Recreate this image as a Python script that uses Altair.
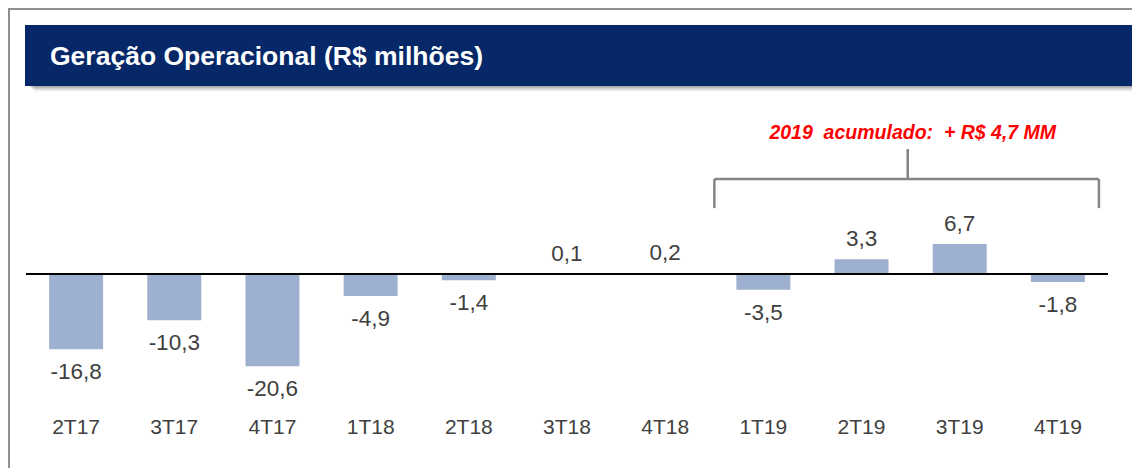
import altair as alt
import pandas as pd

# ---- data ----
categories = ["2T17", "3T17", "4T17", "1T18", "2T18", "3T18", "4T18", "1T19", "2T19", "3T19", "4T19"]
values = [-16.8, -10.3, -20.6, -4.9, -1.4, 0.1, 0.2, -3.5, 3.3, 6.7, -1.8]
title_text = "Geração Operacional (R$ milhões)"
note_text = "2019\u00a0\u00a0acumulado:\u00a0\u00a0+ R$ 4,7 MM"
bracket_start = "1T19"
bracket_end = "4T19"
bracket_stem_cat = "3T19"

df = pd.DataFrame({"cat": categories, "val": values})
df["label"] = [f"{v:.1f}".replace(".", ",") for v in values]

# ---- style ----
NAVY = "#062868"
BAR = "#9DB0CF"
TXT = "#404040"
GREY = "#858585"
FONT = "Liberation Sans"

W, H = 1124, 460

x_scale = alt.Scale(domain=categories, range=[19, 1099], paddingInner=0.45, paddingOuter=0.225)
y_scale = alt.Scale(domain=[-30, 30], range=[266 + 30 * 4.48, 266 - 30 * 4.48])

one = alt.Data(values=[{"a": 1}])

# border lines (top and left)
border_top = alt.Chart(one).mark_rule(color="#8f8f8f", strokeWidth=2).encode(
    x=alt.value(0), x2=alt.value(W), y=alt.value(1))
border_left = alt.Chart(one).mark_rule(color="#8f8f8f", strokeWidth=2).encode(
    y=alt.value(0), y2=alt.value(H), x=alt.value(1))

# title bar shadow + bar
shadows = []
for i, op in enumerate([0.10, 0.09, 0.08, 0.06, 0.04, 0.03]):
    shadows.append(alt.Chart(one).mark_rect(color="#000000", opacity=op).encode(
        x=alt.value(22 + i), x2=alt.value(W), y=alt.value(20 + i), y2=alt.value(79 + i)))
title_bar = alt.Chart(one).mark_rect(color=NAVY).encode(
    x=alt.value(17), x2=alt.value(1127), y=alt.value(17), y2=alt.value(78))
title = alt.Chart(one).mark_text(text=title_text, color="white", font=FONT, fontWeight="bold",
                                 fontSize=26.5, align="left", baseline="middle").encode(
    x=alt.value(42), y=alt.value(49))

base = alt.Chart(df)
bars = base.mark_bar(color=BAR).encode(
    x=alt.X("cat:N", scale=x_scale, axis=None),
    y=alt.Y("val:Q", scale=y_scale, axis=None),
    y2=alt.datum(0),
)

zero = alt.Chart(one).transform_calculate(z="0").mark_rule(color="black", strokeWidth=2.2).encode(
    x=alt.value(18), x2=alt.value(1100), y=alt.Y("z:Q", scale=y_scale, axis=None))

neg_labels = base.transform_filter("datum.val < 0").mark_text(
    font=FONT, fontSize=22.5, color=TXT, baseline="middle", dy=23).encode(
    x=alt.X("cat:N", scale=x_scale, axis=None),
    y=alt.Y("val:Q", scale=y_scale, axis=None),
    text="label:N")
pos_labels = base.transform_filter("datum.val >= 0").mark_text(
    font=FONT, fontSize=22.5, color=TXT, baseline="middle", dy=-20).encode(
    x=alt.X("cat:N", scale=x_scale, axis=None),
    y=alt.Y("val:Q", scale=y_scale, axis=None),
    text="label:N")

cat_labels = base.mark_text(font=FONT, fontSize=21, color=TXT, baseline="middle").encode(
    x=alt.X("cat:N", scale=x_scale, axis=None),
    y=alt.value(420),
    text="cat:N")

# bracket annotation
br = alt.Data(values=[{"s": bracket_start, "e": bracket_end, "m": bracket_stem_cat,
                       "yh": 21.2, "yb": 14.7, "yt": 27.9, "yn": 31.5}])
br_h = alt.Chart(br).mark_rule(color=GREY, strokeWidth=2.5, xOffset=-22, x2Offset=14).encode(
    x=alt.X("s:N", scale=x_scale, axis=None, bandPosition=0),
    x2=alt.X2("e:N", bandPosition=1),
    y=alt.Y("yh:Q", scale=y_scale, axis=None))
br_l = alt.Chart(br).mark_rule(color=GREY, strokeWidth=2.5, xOffset=-22).encode(
    x=alt.X("s:N", scale=x_scale, axis=None, bandPosition=0),
    y=alt.Y("yb:Q", scale=y_scale, axis=None), y2="yh:Q")
br_r = alt.Chart(br).mark_rule(color=GREY, strokeWidth=2.5, xOffset=14).encode(
    x=alt.X("e:N", scale=x_scale, axis=None, bandPosition=1),
    y=alt.Y("yb:Q", scale=y_scale, axis=None), y2="yh:Q")
br_m = alt.Chart(br).mark_rule(color=GREY, strokeWidth=2.5, xOffset=-25).encode(
    x=alt.X("m:N", scale=x_scale, axis=None, bandPosition=0),
    y=alt.Y("yh:Q", scale=y_scale, axis=None), y2="yt:Q")
note = alt.Chart(br).mark_text(text=note_text, color="#FF0000", font=FONT, fontWeight="bold",
                               fontStyle="italic", fontSize=19.5, baseline="middle", xOffset=-20).encode(
    x=alt.X("m:N", scale=x_scale, axis=None, bandPosition=0),
    y=alt.Y("yn:Q", scale=y_scale, axis=None))

chart = alt.layer(
    border_top, border_left, *shadows, title_bar, title,
    bars, zero, neg_labels, pos_labels, cat_labels,
    br_h, br_l, br_r, br_m, note,
).properties(
    width=W, height=H, autosize=alt.AutoSizeParams(type="none"), padding=0,
    background="white",
).configure_view(stroke=None)

chart.save("out.html", embed_options={"renderer": "svg", "actions": False})
